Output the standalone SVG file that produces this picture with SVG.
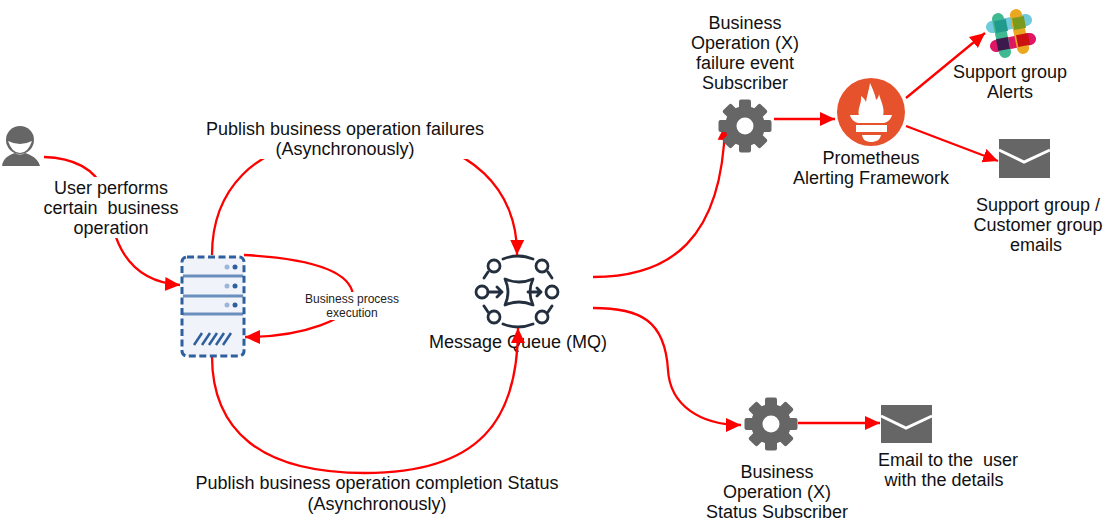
<svg xmlns="http://www.w3.org/2000/svg" width="1109" height="528" viewBox="0 0 1109 528">
<style>
text{font-family:"Liberation Sans",Arial,sans-serif;font-size:18px;fill:#111;text-anchor:middle}
text.s{font-size:12px;fill:#222}
.c{fill:none;stroke:#f00;stroke-width:2.300}
.bg{fill:#fff}
.mq{fill:none;stroke:#232f3e;stroke-width:2.800;stroke-linecap:round;stroke-linejoin:round}
.env{fill:#666}
.chev{fill:none;stroke:#fff;stroke-width:3}
</style>
<defs>
<marker id="arr" markerUnits="userSpaceOnUse" markerWidth="16" markerHeight="16" refX="15" refY="8" orient="auto"><path d="M0,1 L15,8 L0,15 Z" fill="#f00"/></marker>
<g id="gear">
<g fill="#666"><circle r="20"/>
<rect x="-6" y="-26.500" width="12" height="53" rx="2"/>
<rect x="-6" y="-26.500" width="12" height="53" rx="2" transform="rotate(45)"/>
<rect x="-6" y="-26.500" width="12" height="53" rx="2" transform="rotate(90)"/>
<rect x="-6" y="-26.500" width="12" height="53" rx="2" transform="rotate(135)"/></g>
<circle r="8.500" fill="#fff"/>
</g>
</defs>
<g id="node-mq">
<text x="518" y="348">Message Queue (MQ)</text>
<g class="mq">
<circle cx="494" cy="266" r="6"/><circle cx="542" cy="266" r="6"/><circle cx="482" cy="292" r="6"/><circle cx="552" cy="292" r="6"/><circle cx="494" cy="317" r="6"/><circle cx="542" cy="317" r="6"/>
<path d="M503,259 Q518,253 533,259 M503,324 Q518,330 533,324 M484,278 L488,272 M552,278 L548,272 M484,306 L488,312 M552,306 L548,312"/>
<path d="M505,279 Q519,285 533,279 Q527,292 533,305 Q519,299 505,305 Q511,292 505,279 Z"/>
<path d="M488,292 H502 M497,287 L502,292 L497,297 M528,292 H541 M537,288 L541,292 L537,296"/>
</g>
</g>
<g id="connectors">
<path class="c" marker-end="url(#arr)" d="M44,157 C75,158 95,170 104,190 C112,208 108,280 180,285"/>
<path class="c" marker-end="url(#arr)" d="M212,255 C212,195 250,140 340,140 L390,140 C470,140 518,190 517,255"/>
<path class="c" marker-end="url(#arr)" d="M212,356 C212,430 260,473 365,473 C480,473 518,420 518,328"/>
<path class="c" marker-end="url(#arr)" d="M244,255 C300,258 350,268 353,295 C355,320 300,337 245,337"/>
<path class="c" marker-end="url(#arr)" d="M593,277 C670,277 722,240 725,125"/>
<path class="c" marker-end="url(#arr)" d="M593,308 C640,308 665,320 668,370 C670,405 700,425 741,425"/>
<path class="c" marker-end="url(#arr)" d="M774,119 L835,119"/>
<path class="c" marker-end="url(#arr)" d="M906,98 L985,33"/>
<path class="c" marker-end="url(#arr)" d="M906,126 L998,161"/>
<path class="c" marker-end="url(#arr)" d="M798,423 L880,423"/>
</g>
<g id="connector-labels">
<rect class="bg" x="205" y="118" width="281" height="41"/>
<text x="345" y="135">Publish business operation failures</text>
<text x="345" y="155">(Asynchronously)</text>
<rect class="bg" x="42" y="177" width="140" height="61"/>
<text x="111" y="194">User performs</text>
<text x="111" y="214" xml:space="preserve">certain  business</text>
<text x="111" y="234">operation</text>
<rect class="bg" x="305" y="292" width="95" height="28"/>
<text class="s" x="352" y="303">Business process</text>
<text class="s" x="352" y="317">execution</text>
<text x="377" y="489">Publish business operation completion Status</text>
<text x="377" y="510">(Asynchronously)</text>
</g>
<g id="node-user">
<circle cx="20" cy="140" r="14" fill="#666"/>
<path d="M8,141 Q20,147 32,141 Q28,153 20,153 Q12,153 8,141 Z" fill="#fff"/>
<path d="M2,166 C3,158 9,155 15,153 Q20,156 25,153 C31,155 38,158 40,166 Z" fill="#666"/>
</g>
<g id="node-server">
<rect x="182" y="257" width="62" height="99" rx="5" fill="#f0f3fa"/>
<path d="M183,276 H243 M183,296 H243 M183,314 H243" stroke="#6b8fbd" stroke-width="3" fill="none"/>
<rect x="182" y="257" width="62" height="99" rx="5" fill="none" stroke="#2e5f9e" stroke-width="3" stroke-dasharray="7 3.500"/>
<circle cx="227" cy="267" r="2.500" fill="#9db6d8"/><circle cx="235" cy="267" r="2.500" fill="#2e5f9e"/>
<circle cx="227" cy="286" r="2.500" fill="#9db6d8"/><circle cx="235" cy="286" r="2.500" fill="#2e5f9e"/>
<circle cx="227" cy="305" r="2.500" fill="#9db6d8"/><circle cx="235" cy="305" r="2.500" fill="#2e5f9e"/>
<path d="M194,345 L202,333 M202,345 L210,333 M209,345 L217,333 M216,345 L224,333 M223,345 L231,333" stroke="#2e5f9e" stroke-width="2.500" fill="none"/>
</g>
<g id="node-failure-subscriber">
<use href="#gear" x="745" y="126"/>
<text x="745" y="29">Business</text>
<text x="745" y="49">Operation (X)</text>
<text x="745" y="69">failure event</text>
<text x="745" y="89">Subscriber</text>
</g>
<g id="node-prometheus">
<circle cx="871" cy="112" r="34" fill="#e6522c"/>
<path d="M859,116 C857,108 862,104 861,96 C864,98 865,100 866,102 C867,95 869,90 870,83 C873,90 875,94 876,100 C878,98 879,96 879,94 C881,102 885,108 883,116 Z" fill="#fff"/>
<path d="M850,115 H892 C891,119 888,122 884,123 H858 C854,122 851,119 850,115 Z" fill="#fff"/>
<rect x="856" y="125" width="31" height="7" fill="#fff"/>
<path d="M862,135 H881 C880,140 876,142 871,142 C866,142 863,140 862,135 Z" fill="#fff"/>
<text x="871" y="164">Prometheus</text>
<text x="871" y="184">Alerting Framework</text>
</g>
<g id="node-slack">
<g fill="none" stroke-width="12" stroke-linecap="round">
<path d="M992,27 L1026,20" stroke="#70cadb"/>
<path d="M996,46 L1030,39" stroke="#e01563"/>
<path d="M998,19 L1005,52" stroke="#3eb991"/>
<path d="M1016,15 L1023,48" stroke="#e9a820"/>
</g>
<rect x="995" y="20" width="12" height="12" fill="#1f9a8c" transform="rotate(-11 1001 26)"/>
<rect x="1013" y="17" width="12" height="12" fill="#7a9a1e" transform="rotate(-11 1019 23)"/>
<rect x="997" y="38" width="12" height="12" fill="#3d1a4c" transform="rotate(-11 1003 44)"/>
<rect x="1017" y="34" width="12" height="12" fill="#cc1111" transform="rotate(-11 1023 40)"/>
<text x="1010" y="78">Support group</text>
<text x="1010" y="98">Alerts</text>
</g>
<g id="node-support-email">
<rect class="env" x="999" y="139" width="51" height="39"/>
<path class="chev" d="M999,150 L1024,162 L1050,150"/>
<text x="1038" y="211">Support group /</text>
<text x="1038" y="231">Customer group</text>
<text x="1036" y="251">emails</text>
</g>
<g id="node-status-subscriber">
<use href="#gear" x="771" y="424"/>
<text x="777" y="478">Business</text>
<text x="777" y="498">Operation (X)</text>
<text x="777" y="518">Status Subscriber</text>
</g>
<g id="node-user-email">
<rect class="env" x="881" y="405" width="51" height="38"/>
<path class="chev" d="M881,416 L906,428 L932,416"/>
<text x="948" y="466" xml:space="preserve">Email to the  user</text>
<text x="944" y="486">with the details</text>
</g>
</svg>
